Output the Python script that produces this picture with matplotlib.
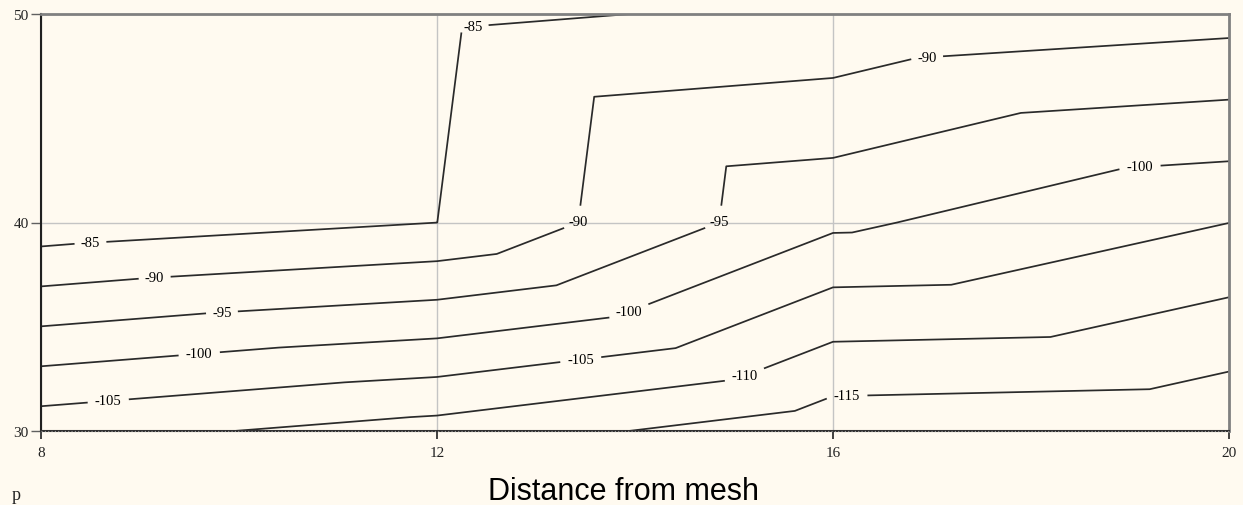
import matplotlib
matplotlib.use("Agg")
import matplotlib.pyplot as plt
import matplotlib.tri as mtri
import numpy as np

# ---- data ----
x_nodes = [8, 12, 16, 20]
y_nodes = [30, 40, 50]
z_row_30 = [-108.1, -112.0, -118.2, -119.0]
z_row_40 = [-82.0, -84.99, -99.04, -104.97]
z_row_50 = [-81.5, -84.05, -86.0, -88.05]
levels = [-115, -110, -105, -100, -95, -90, -85]
x_ticks = [8, 12, 16, 20]
y_ticks = [30, 40, 50]

# label anchor positions (layout only)
label_pos = [(8.5, 39.0), (9.15, 37.2), (9.83, 35.5), (9.6, 33.6), (8.68, 31.4),
             (12.36, 49.45), (13.5, 40.0), (14.93, 40.0), (13.95, 35.6),
             (13.45, 33.5), (15.12, 32.5), (16.14, 31.75), (16.95, 47.95),
             (19.1, 42.7)]

# ---- build triangulated grid (diagonal from top-left to bottom-right) ----
z_rows = [z_row_30, z_row_40, z_row_50]
nx, ny = len(x_nodes), len(y_nodes)
X, Y, Z = [], [], []
for j in range(ny):
    for i in range(nx):
        X.append(x_nodes[i]); Y.append(y_nodes[j]); Z.append(z_rows[j][i])
tris = []
for j in range(ny - 1):
    for i in range(nx - 1):
        bl = j * nx + i
        br = bl + 1
        tl = bl + nx
        tr = tl + 1
        tris.append([bl, br, tl])
        tris.append([br, tr, tl])
tri = mtri.Triangulation(np.array(X, float), np.array(Y, float), np.array(tris))

bg = '#FFFAF0'
fig = plt.figure(figsize=(12.43, 5.06), dpi=100, facecolor=bg)
ax = fig.add_axes([41/1243, 74/506, 1188/1243, 417/506])
ax.set_facecolor(bg)

ax.set_xlim(8, 20)
ax.set_ylim(30, 50)
ax.set_xticks(x_ticks)
ax.set_yticks(y_ticks)
ax.grid(True, color='#c4c4c4', lw=1.0, zorder=0)
ax.set_axisbelow(True)

cs = ax.tricontour(tri, np.array(Z, float), levels=levels,
                   colors='#2a2a2a', linewidths=1.25, linestyles='solid', zorder=2)
texts = ax.clabel(cs, manual=label_pos, inline=True, inline_spacing=4,
                  fmt=lambda v: f"{v:.0f}", fontsize=10.5, colors='black')
for t in texts:
    t.set_rotation(0)
    t.set_family('Liberation Serif')

# spines
ax.spines['left'].set_color('#202020')
ax.spines['left'].set_linewidth(1.5)
ax.spines['bottom'].set_color('#303030')
ax.spines['bottom'].set_linewidth(1.5)
ax.spines['top'].set_color('#808080')
ax.spines['top'].set_linewidth(2.0)
ax.spines['right'].set_color('#808080')
ax.spines['right'].set_linewidth(2.0)
ax.axhline(30, color='#9a9a9a', lw=0.8, ls=(0, (1, 2)), zorder=3, clip_on=False)

ax.tick_params(axis='y', direction='out', length=7, width=1, color='#606060',
               pad=2, labelsize=11, labelcolor='#222222')
ax.tick_params(axis='x', direction='out', length=6, width=1.2, color='#202020',
               pad=5, labelsize=11, labelcolor='#222222')
for lab in ax.get_xticklabels() + ax.get_yticklabels():
    lab.set_family('Liberation Serif')

fig.text(12/1243, 1 - 500/506, 'p', family='Liberation Serif', fontsize=13,
         ha='left', va='baseline', color='#222222')
fig.text(623/1243, 1 - 500/506, 'Distance from mesh', family='Liberation Sans',
         fontsize=22, ha='center', va='baseline', color='black')

fig.savefig('out.png', dpi=100, facecolor=bg)
